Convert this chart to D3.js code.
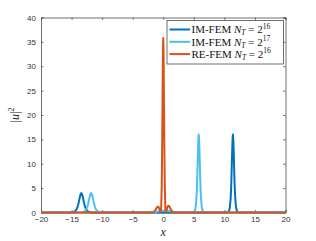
<!DOCTYPE html>
<html><head><meta charset="utf-8">
<script src="https://cdn.jsdelivr.net/npm/d3@7"></script>
<style>body{margin:0;background:#fff}svg{display:block}</style>
</head><body>
<svg id="c" width="316" height="241"></svg>
<script>
// ---- data ----
const xTicks = [-20,-15,-10,-5,0,5,10,15,20];
const yTicks = [0,5,10,15,20,25,30,35,40];
const seriesNames = ["IM-FEM", "IM-FEM", "RE-FEM"];
const seriesExp = ["16", "17", "16"];
const seriesColors = ["#0072BD", "#4DBEEE", "#D95319"];

const imFem16X = [-20,-15.4,-14.9,-14.65,-14.4,-14.15,-14.03,-13.9,-13.78,-13.65,-13.53,-13.4,-13.28,-13.15,-13.03,-12.9,-12.78,-12.65,-12.4,-12.15,-11.9,-11.4,
  10.4,10.65,10.8,10.9,11.03,11.09,11.15,11.21,11.28,11.34,11.4,11.46,11.53,11.59,11.65,11.71,11.78,11.9,12.03,12.15,12.4,20];
const imFem16Y = [0,0.005,0.04,0.11,0.28,0.72,1.15,1.68,2.39,3.14,3.76,4.0,3.76,3.14,2.39,1.68,1.15,0.72,0.28,0.11,0.04,0.005,
  0.02,0.16,0.43,1.13,2.9,4.61,6.72,9.55,12.58,15.04,16.0,15.04,12.58,9.55,6.72,4.61,2.9,1.13,0.43,0.16,0.02,0];

const imFem17X = [-20,-13.8,-13.3,-13.05,-12.8,-12.55,-12.43,-12.3,-12.18,-12.05,-11.93,-11.8,-11.68,-11.55,-11.43,-11.3,-11.18,-11.05,-10.8,-10.55,-10.3,-9.8,
  -1.6,-1.2,-0.8,-0.4,0,0.5,1.0,1.5,2.0,2.3,
  4.8,5.05,5.2,5.3,5.43,5.49,5.55,5.61,5.68,5.74,5.8,5.86,5.93,5.99,6.05,6.11,6.18,6.3,6.43,6.55,6.8,20];
const imFem17Y = [0,0.005,0.04,0.11,0.28,0.72,1.15,1.68,2.39,3.14,3.76,4.0,3.76,3.14,2.39,1.68,1.15,0.72,0.28,0.11,0.04,0.005,
  0,0.1,0.25,0.35,0.4,0.4,0.32,0.2,0.08,0,
  0.02,0.16,0.43,1.13,2.9,4.61,6.72,9.55,12.58,15.04,16.0,15.04,12.58,9.55,6.72,4.61,2.9,1.13,0.43,0.16,0.02,0];

const reFem16X = [-20,-1.9,-1.6,-1.35,-1.15,-1.0,-0.85,-0.75,-0.62,-0.5,-0.42,-0.33,-0.25,-0.21,-0.167,-0.125,-0.083,-0.042,0,
  0.042,0.083,0.125,0.167,0.21,0.25,0.33,0.42,0.52,0.65,0.78,0.9,1.05,1.2,1.4,1.65,1.95,20];
const reFem16Y = [0,0,0.08,0.35,0.8,1.1,1.2,1.1,0.7,0.3,0.15,1.2,5.5,10.0,15.1,21.5,28.3,33.8,35.8,
  33.8,28.3,21.5,15.1,10.0,5.5,1.2,0.15,0.4,0.95,1.35,1.4,1.15,0.7,0.25,0.06,0,0];

const seriesX = [imFem16X, imFem17X, reFem16X];
const seriesY = [imFem16Y, imFem17Y, reFem16Y];

// ---- layout ----
const svg = d3.select("#c");
const L = 41, R = 285.5, T = 17.5, B = 212.5;
const x = d3.scaleLinear().domain([-20,20]).range([L,R]);
const y = d3.scaleLinear().domain([0,40]).range([B,T]);
const axisColor = "#4d4d4d";
const tickFont = "'Liberation Sans', Arial, sans-serif";
const serif = "'Liberation Serif', 'Times New Roman', serif";
const tl = 2.4;

// axes with inside ticks
const gx = svg.append("g").attr("transform",`translate(0,${B})`)
  .call(d3.axisBottom(x).tickValues(xTicks).tickSize(-tl).tickPadding(4).tickFormat(d3.format("d")));
const gxt = svg.append("g").attr("transform",`translate(0,${T})`)
  .call(d3.axisTop(x).tickValues(xTicks).tickSize(-tl).tickFormat(""));
const gy = svg.append("g").attr("transform",`translate(${L},0)`)
  .call(d3.axisLeft(y).tickValues(yTicks).tickSize(-tl).tickPadding(5).tickFormat(d3.format("d")));
const gyr = svg.append("g").attr("transform",`translate(${R},0)`)
  .call(d3.axisRight(y).tickValues(yTicks).tickSize(-tl).tickFormat(""));
[gx,gxt,gy,gyr].forEach(g=>{
  g.selectAll("path.domain").attr("stroke",axisColor).attr("stroke-width",0.8);
  g.selectAll(".tick line").attr("stroke",axisColor).attr("stroke-width",0.8);
  g.selectAll(".tick text").attr("fill","#333").style("font-family",tickFont).style("font-size","8px");
});

// lines
const line = d3.line().x(d=>x(d[0])).y(d=>y(d[1]));
seriesX.forEach((xs,i)=>{
  const pts = xs.map((v,j)=>[v, seriesY[i][j]]);
  svg.append("path").datum(pts).attr("d",line)
    .attr("fill","none").attr("stroke",seriesColors[i]).attr("stroke-width",2)
    .attr("stroke-linejoin","round");
});

// axis labels
svg.append("text").attr("x",(L+R)/2).attr("y",236).attr("text-anchor","middle")
  .style("font-family",serif).style("font-style","italic").style("font-size","12px").attr("fill","#222").text("x");
const yl = svg.append("text").attr("transform",`translate(19,${(T+B)/2}) rotate(-90)`).attr("text-anchor","middle")
  .style("font-family",serif).style("font-size","12px").attr("fill","#222");
yl.append("tspan").text("|");
yl.append("tspan").style("font-style","italic").text("u");
yl.append("tspan").text("|");
yl.append("tspan").attr("dy",-5).style("font-size","8px").text("2");

// legend
const lg = svg.append("g");
lg.append("rect").attr("x",167).attr("y",20.5).attr("width",116.5).attr("height",43.5)
  .attr("fill","#fff").attr("stroke",axisColor).attr("stroke-width",0.8);
seriesNames.forEach((n,i)=>{
  const cy = 29.5 + i*12.3;
  lg.append("line").attr("x1",169.5).attr("x2",190).attr("y1",cy).attr("y2",cy)
    .attr("stroke",seriesColors[i]).attr("stroke-width",2);
  const t = lg.append("text").attr("x",191.5).attr("y",cy+3.8)
    .style("font-family",serif).style("font-size","11px").attr("fill","#111");
  t.append("tspan").text(n+" ");
  t.append("tspan").style("font-style","italic").text("N");
  t.append("tspan").style("font-style","italic").style("font-size","7.5px").attr("dy",2).text("T");
  t.append("tspan").attr("dy",-2).text(" = 2");
  t.append("tspan").style("font-size","7.5px").attr("dy",-4.5).text(seriesExp[i]);
});
</script>
</body></html>
